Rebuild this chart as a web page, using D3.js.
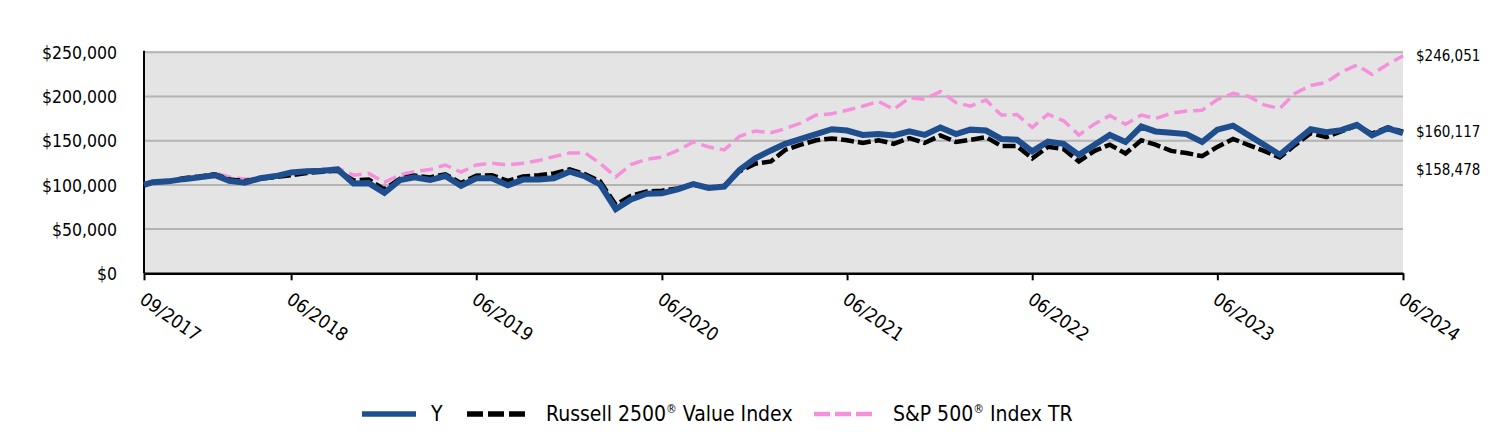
<!DOCTYPE html>
<html><head><meta charset="utf-8">
<script src="https://cdn.jsdelivr.net/npm/d3@7"></script>
<style>
body{margin:0;background:#fff}
svg{display:block}
text{font-family:"DejaVu Sans Condensed","DejaVu Sans",sans-serif;fill:#000}
</style>
</head><body>
<svg id="c" width="1512" height="432"></svg>
<script>
// ---------- data ----------
const dates = ["2017-09-13",
 "2017-09-30","2017-10-31","2017-11-30","2017-12-31",
 "2018-01-31","2018-02-28","2018-03-31","2018-04-30","2018-05-31","2018-06-30","2018-07-31","2018-08-31","2018-09-30","2018-10-31","2018-11-30","2018-12-31",
 "2019-01-31","2019-02-28","2019-03-31","2019-04-30","2019-05-31","2019-06-30","2019-07-31","2019-08-31","2019-09-30","2019-10-31","2019-11-30","2019-12-31",
 "2020-01-31","2020-02-29","2020-03-31","2020-04-30","2020-05-31","2020-06-30","2020-07-31","2020-08-31","2020-09-30","2020-10-31","2020-11-30","2020-12-31",
 "2021-01-31","2021-02-28","2021-03-31","2021-04-30","2021-05-31","2021-06-30","2021-07-31","2021-08-31","2021-09-30","2021-10-31","2021-11-30","2021-12-31",
 "2022-01-31","2022-02-28","2022-03-31","2022-04-30","2022-05-31","2022-06-30","2022-07-31","2022-08-31","2022-09-30","2022-10-31","2022-11-30","2022-12-31",
 "2023-01-31","2023-02-28","2023-03-31","2023-04-30","2023-05-31","2023-06-30","2023-07-31","2023-08-31","2023-09-30","2023-10-31","2023-11-30","2023-12-31",
 "2024-01-31","2024-02-29","2024-03-31","2024-04-30","2024-05-31","2024-06-30"];

const yFund = [100000,
 103000,104000,106500,108500,
 111000,104500,102500,107500,110000,114000,115500,116000,117500,101500,102000,91000,
 105500,108500,105500,110000,99000,107500,107500,99500,106000,106000,107500,115000,
 109500,100500,72500,83500,90000,90500,95000,101000,96500,98000,117000,130000,
 139000,146500,152000,157500,163000,161500,156500,157500,156000,160500,156500,165000,
 157500,162500,161500,152000,151000,138000,149000,146500,134000,145500,156500,148500,
 166000,160500,159000,157500,148500,162500,167000,156000,145500,134000,148500,163000,
 159500,162000,168000,156000,164000,158478];

const russell2500Value = [100000,
 102500,104000,107500,109500,
 112000,106000,104500,107000,109000,111000,113500,115000,116000,105000,106000,95000,
 107000,110500,108500,112000,102000,110500,111000,104500,109500,111000,113000,117500,
 112000,104000,77500,87500,92500,93500,96000,100500,96500,99000,115500,124000,
 126500,139500,145500,150500,152500,150500,147500,150500,146500,153000,147500,156000,
 148500,151000,154000,144000,144000,130000,143000,140500,126500,138500,145500,135500,
 150500,145500,138500,136000,132500,143000,152000,145000,138500,131000,145000,158500,
 154000,160500,167000,158000,165000,160117];

const sp500 = [100000,
 102000,104500,107500,108500,
 113500,109000,106500,107000,109500,110500,114500,118000,119000,111000,113000,103000,
 111500,115000,117500,122500,114500,122500,124500,122500,124500,127500,132000,136000,
 136000,124500,109000,123000,129000,131500,139000,148500,143000,139500,155000,161000,
 159000,163500,170000,179000,180500,184500,189000,194500,185500,198500,197000,205500,
 193000,189000,196000,179000,179500,165000,180000,172500,156500,169000,178500,168500,
 179000,175000,181000,183500,184500,196500,203500,200000,190500,186500,203500,212500,
 216000,227500,235500,225000,236500,246051];

const tickDates = ["2017-09-13","2018-06-30","2019-06-30","2020-06-30","2021-06-30","2022-06-30","2023-06-30","2024-06-30"];
const yTicks = [0,50000,100000,150000,200000,250000];
const endLabels = ["$246,051","$160,117","$158,478"];
const endValues = [246051,160117,158478];

// ---------- chart ----------
const parse = d3.timeParse("%Y-%m-%d");
const X = dates.map(parse);
const svg = d3.select("#c");

const x = d3.scaleTime().domain([X[0], X[X.length-1]]).range([144, 1403]);
const y = d3.scaleLinear().domain([0, 250000]).range([273.3, 52.3]);

// plot background
svg.append("rect").attr("x", x.range()[0]).attr("y", y(250000)-1.5)
  .attr("width", x.range()[1]-x.range()[0]).attr("height", y(0)-y(250000)+1.5)
  .attr("fill", "#e4e4e4");

// gridlines
svg.append("g").selectAll("line").data(yTicks.filter(d=>d>0)).join("line")
  .attr("x1", x.range()[0]).attr("x2", x.range()[1])
  .attr("y1", d=>y(d)).attr("y2", d=>y(d))
  .attr("stroke", "#b3b3b3").attr("stroke-width", 2);

// y axis labels
const yAxis = d3.axisLeft(y).tickValues(yTicks).tickSize(0).tickPadding(0).tickFormat(d3.format("$,"));
const gy = svg.append("g").attr("transform", "translate(117,0)").call(yAxis);
gy.select(".domain").remove();
gy.selectAll("text").attr("font-size", 17.5).attr("font-family", null).attr("dy", "0.35em");

// left axis line
svg.append("line").attr("x1", 144).attr("x2", 144).attr("y1", y(250000)-1.5).attr("y2", y(0))
  .attr("stroke", "#000").attr("stroke-width", 2);

// x axis
const xAxis = d3.axisBottom(x).tickValues(tickDates.map(parse)).tickSize(7).tickSizeOuter(0)
  .tickFormat(d3.timeFormat("%m/%Y"));
const gx = svg.append("g").attr("transform", `translate(0,${y(0)})`).call(xAxis);
gx.select(".domain").attr("stroke", "#000").attr("stroke-width", 2.5);
gx.selectAll(".tick line").attr("stroke", "#000").attr("stroke-width", 2);
gx.selectAll("text").attr("font-size", 18.5).attr("font-family", null)
  .attr("text-anchor", "start").attr("dy", null).attr("y", null)
  .attr("transform", "translate(-6,29) rotate(35)");

// lines
const line = vals => d3.line().x((d,i)=>x(X[i])).y(d=>y(d))(vals);
svg.append("path").attr("d", line(sp500)).attr("fill","none")
  .attr("stroke","#f590da").attr("stroke-width",3.5).attr("stroke-dasharray","13,6");
svg.append("path").attr("d", line(russell2500Value)).attr("fill","none")
  .attr("stroke","#000").attr("stroke-width",4.5).attr("stroke-dasharray","13,4");
svg.append("path").attr("d", line(yFund)).attr("fill","none")
  .attr("stroke","#1f4e8e").attr("stroke-width",6).attr("stroke-linejoin","miter");

// end labels (avoid overlap)
let prev = -Infinity;
endValues.forEach((v,i)=>{
  let yy = Math.max(y(v), prev + 38);
  prev = yy;
  svg.append("text").attr("x", 1416).attr("y", yy).attr("dy","0.35em")
    .attr("font-size", 15).text(endLabels[i]);
});

// legend
const leg = svg.append("g");
const ly = 414;
leg.append("line").attr("x1",362).attr("x2",416).attr("y1",ly).attr("y2",ly)
  .attr("stroke","#1f4e8e").attr("stroke-width",5.5);
leg.append("text").attr("x",431).attr("y",ly).attr("dy","0.35em").attr("font-size",21).text("Y");
leg.append("line").attr("x1",467).attr("x2",526).attr("y1",ly).attr("y2",ly)
  .attr("stroke","#000").attr("stroke-width",5.5).attr("stroke-dasharray","16,5");
const t1 = leg.append("text").attr("x",546).attr("y",ly).attr("dy","0.35em").attr("font-size",21);
t1.append("tspan").text("Russell 2500");
t1.append("tspan").attr("font-size",12).attr("dy","-0.7em").text("®");
t1.append("tspan").attr("dy","0.4em").text(" Value Index");
leg.append("line").attr("x1",814).attr("x2",873).attr("y1",ly).attr("y2",ly)
  .attr("stroke","#f590da").attr("stroke-width",4.5).attr("stroke-dasharray","16,5");
const t2 = leg.append("text").attr("x",893).attr("y",ly).attr("dy","0.35em").attr("font-size",21);
t2.append("tspan").text("S&P 500");
t2.append("tspan").attr("font-size",12).attr("dy","-0.7em").text("®");
t2.append("tspan").attr("dy","0.4em").text(" Index TR");
</script>
</body></html>
